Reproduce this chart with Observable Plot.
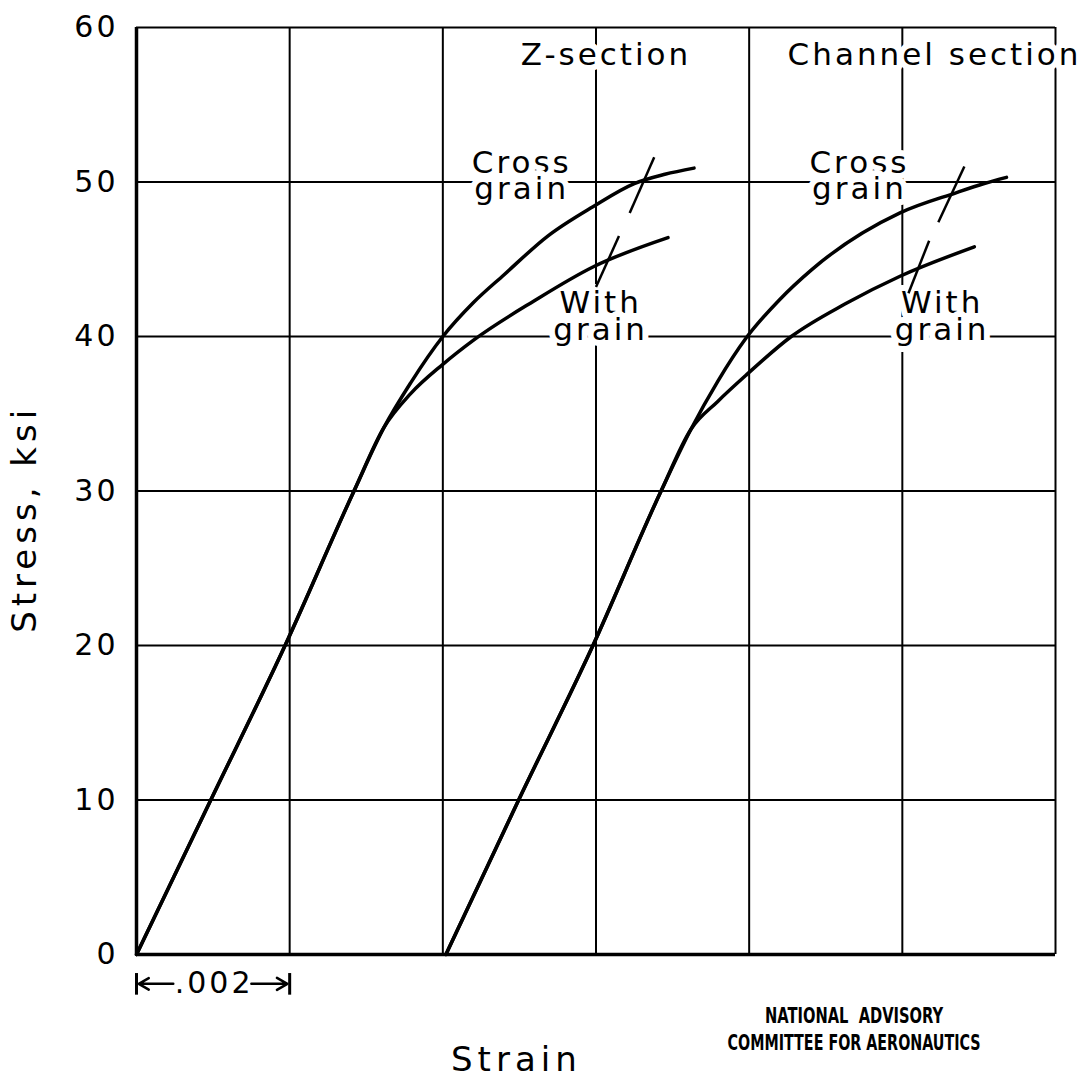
<!DOCTYPE html>
<html><head><meta charset="utf-8">
<script src="https://cdn.jsdelivr.net/npm/d3@7"></script>
<script src="https://cdn.jsdelivr.net/npm/@observablehq/plot@0.6"></script>
<style>
html,body{margin:0;padding:0;background:#fff;}
#chart svg text{letter-spacing:3px;}
#chart text[aria-label="naca"]{letter-spacing:0px;}
#chart text[aria-label="axis-title"]{letter-spacing:5px;}
</style></head><body><div id="chart"></div>
<script>
const strainTicks = [0, 0.002, 0.004, 0.006, 0.008, 0.010, 0.012];
const stressTicks = [0, 10, 20, 30, 40, 50, 60];

// Z-section
const zCrossStrain = [0, 0.00097, 0.00194, 0.00284, 0.00323, 0.00358, 0.00400, 0.00440, 0.00480, 0.00537, 0.00596, 0.00650, 0.00690, 0.00728];
const zCrossStress = [0, 10, 20, 30, 34.1, 37.0, 40.0, 42.2, 44.0, 46.5, 48.4, 49.9, 50.5, 50.9];
const zWithStrain = [0, 0.00097, 0.00194, 0.00284, 0.00323, 0.00358, 0.00400, 0.00441, 0.00519, 0.00596, 0.00694];
const zWithStress = [0, 10, 20, 30, 34.1, 36.3, 38.2, 39.8, 42.3, 44.5, 46.4];

// Channel section
const cCrossStrain = [0.00404, 0.00499, 0.00596, 0.00685, 0.00724, 0.00759, 0.00796, 0.00840, 0.00881, 0.00997, 0.01070, 0.01107, 0.01136];
const cCrossStress = [0, 10, 20, 30, 34, 37.1, 39.9, 42.4, 44.3, 48.0, 49.3, 49.9, 50.3];
const cWithStrain = [0.00404, 0.00499, 0.00596, 0.00685, 0.00724, 0.00759, 0.00796, 0.00855, 0.00925, 0.00997, 0.01094];
const cWithStress = [0, 10, 20, 30, 34, 35.8, 37.5, 40, 42.1, 43.9, 45.8];

// end-of-test marks (slashes)
const markX1 = [0.00676, 0.00630, 0.01081, 0.01035];
const markY1 = [51.6, 46.5, 51.0, 46.2];
const markX2 = [0.00644, 0.00600, 0.01047, 0.01008];
const markY2 = [48.0, 43.2, 47.4, 42.8];

// labels
const labelText = ["Z-section", "Channel section", "Cross\ngrain", "With\ngrain", "Cross\ngrain", "With\ngrain"];
const labelX = [0.00613, 0.01042, 0.00503, 0.00606, 0.00944, 0.01052];
const labelY = [58.1, 58.1, 50.3, 41.2, 50.3, 41.2];

const scaleLabel = ".002";
const scaleX = [0, 0.002];
const xTitle = "Strain";
const yTitle = "Stress, ksi";
const credit = ["NATIONAL  ADVISORY", "COMMITTEE FOR AERONAUTICS"];
const creditWidth = [178, 253];

const rows = (xs, ys, s) => xs.map((x, i) => ({x, y: ys[i], s}));
const curves = [
  ...rows(zCrossStrain, zCrossStress, "zc"),
  ...rows(zWithStrain, zWithStress, "zw"),
  ...rows(cCrossStrain, cCrossStress, "cc"),
  ...rows(cWithStrain, cWithStress, "cw")
];
const marks = markX1.map((x1, i) => ({x1, y1: markY1[i], x2: markX2[i], y2: markY2[i]}));
const labels = labelText.map((t, i) => ({t, x: labelX[i], y: labelY[i]}));

const mid = (scaleX[0] + scaleX[1]) / 2;
const nacaFont = "'Liberation Sans Narrow', 'DejaVu Sans Condensed', 'DejaVu Sans', sans-serif";
const chart = Plot.plot({
  width: 1087, height: 1080,
  marginLeft: 136, marginRight: 32, marginTop: 27, marginBottom: 126,
  style: {fontFamily: "DejaVu Sans", background: "#fff", color: "#000"},
  x: {domain: [0, 0.012], axis: null},
  y: {domain: [0, 60], axis: null},
  marks: [
    Plot.ruleX(strainTicks, {stroke: "#000", strokeWidth: 2}),
    Plot.ruleY(stressTicks, {stroke: "#000", strokeWidth: 2}),
    Plot.ruleX([0], {stroke: "#000", strokeWidth: 3.5}),
    Plot.ruleY([0], {stroke: "#000", strokeWidth: 3.5}),
    Plot.axisY({ticks: stressTicks, tickSize: 0, tickPadding: 18, fontSize: 30, label: null}),
    Plot.text(labels, {x: "x", y: "y", text: "t", fontSize: 31, lineHeight: 0.87, fill: "#000", stroke: "#fff", strokeWidth: 12}),
    Plot.line(curves, {x: "x", y: "y", z: "s", curve: "monotone-x", stroke: "#000", strokeWidth: 3.5}),
    Plot.link(marks, {x1: "x1", y1: "y1", x2: "x2", y2: "y2", stroke: "#000", strokeWidth: 2.5}),
    // .002 scale bar
    Plot.text([scaleLabel], {x: mid, y: -1.9, text: d => d, fontSize: 30, dx: 1, fill: "#000"}),
    Plot.arrow([0], {x1: scaleX[0] + 0.00048, x2: scaleX[0] + 0.00003, y1: -1.9, y2: -1.9, stroke: "#000", strokeWidth: 2.5, headLength: 12, bend: 0}),
    Plot.arrow([0], {x1: scaleX[1] - 0.00050, x2: scaleX[1] - 0.00003, y1: -1.9, y2: -1.9, stroke: "#000", strokeWidth: 2.5, headLength: 12, bend: 0}),
    Plot.link(scaleX, {x1: d => d, x2: d => d, y1: -1.2, y2: -2.6, stroke: "#000", strokeWidth: 3}),
    // axis titles
    Plot.text([yTitle], {frameAnchor: "left", y: 28.2, dx: -111, rotate: -90, textAnchor: "middle", lineAnchor: "middle", fontSize: 34, text: d => d, fill: "#000", ariaLabel: () => "axis-title"}),
    Plot.text([xTitle], {frameAnchor: "bottom", x: 0.00496, dy: 106, lineAnchor: "middle", fontSize: 34, text: d => d, fill: "#000", ariaLabel: () => "axis-title"}),
    // credit lines
    Plot.text([credit[0]], {frameAnchor: "bottom", x: 0.00937, dy: 62, lineAnchor: "middle", text: d => d, fontSize: 21, fontWeight: "bold", fontFamily: nacaFont, fill: "#000", ariaLabel: () => "naca"}),
    Plot.text([credit[1]], {frameAnchor: "bottom", x: 0.00937, dy: 89, lineAnchor: "middle", text: d => d, fontSize: 21, fontWeight: "bold", fontFamily: nacaFont, fill: "#000", ariaLabel: () => "naca"})
  ]
});
document.getElementById("chart").appendChild(chart);
// squeeze the condensed credit lettering to its printed width
d3.select(chart).selectAll('text[aria-label="naca"]').each(function() {
  const i = credit.indexOf(this.textContent);
  if (i >= 0) d3.select(this).attr("textLength", creditWidth[i]).attr("lengthAdjust", "spacingAndGlyphs");
});
</script></body></html>
